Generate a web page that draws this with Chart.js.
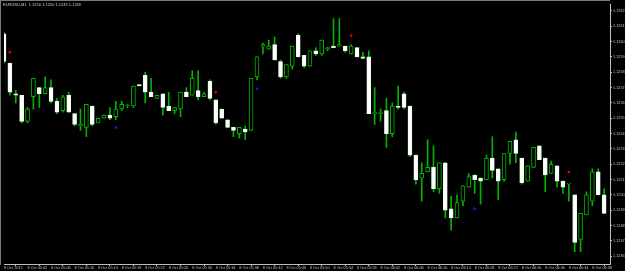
<!DOCTYPE html>
<html>
<head>
<meta charset="utf-8">
<script src="https://cdn.jsdelivr.net/npm/chart.js@4"></script>
<style>
html, body { margin: 0; padding: 0; background: #000; }
#wrap { position: relative; width: 625px; height: 271px; overflow: hidden; background: #000; }
#title { position: absolute; left: 3px; top: 2px; font: 8px "Liberation Sans", Arial, sans-serif; color: #d0d0d0;
         white-space: pre; transform: scale(0.5); transform-origin: 0 0; }
.edge { position: absolute; background: #7a7a7a; }
</style>
</head>
<body>
<div id="wrap">
  <canvas id="c" width="625" height="271"></canvas>
  <div class="edge" style="left:0;top:0;width:610px;height:1px"></div>
  <div class="edge" style="left:0;top:0;width:1px;height:265px"></div>
  <div id="title">EURUSD,M1  1.1250 1.1250 1.1249 1.1249</div>
</div>
<script>
// EURUSD M1, one candle per minute
const opens = [1.12605,1.12586,1.12566,1.12565,1.12548,1.12564,1.12570,1.12566,1.12570,1.12561,
  1.12555,1.12565,1.12553,1.12545,1.12544,1.12558,1.12547,1.12550,1.12552,1.12551,
  1.12556,1.12558,1.12558,1.12572,1.12578,1.12567,1.12563,1.12566,1.12558,1.12555,
  1.12556,1.12567,1.12565,1.12568,1.12564,1.12574,1.12562,1.12556,1.12549,1.12544,
  1.12540,1.12543,1.12542,1.12577,1.12597,1.12595,1.12598,1.12587,1.12577,1.12584,
  1.12604,1.12591,1.12584,1.12594,1.12592,1.12595,1.12597,1.12597,1.12597,1.12592,
  1.12596,1.12590,1.12590,1.12553,1.12553,1.12555,1.12540,1.12558,1.12566,1.12558,
  1.12526,1.12511,1.12515,1.12518,1.12504,1.12521,1.12491,1.12485,1.12496,1.12505,
  1.12513,1.12511,1.12510,1.12524,1.12517,1.12510,1.12527,1.12536,1.12524,1.12509,
  1.12518,1.12532,1.12524,1.12514,1.12519,1.12509,1.12507,1.12500,1.12471,1.12487,
  1.12496,1.12515,1.12500];
const highs = [1.12606,1.12586,1.12568,1.12565,1.12557,1.12576,1.12570,1.12577,1.12575,1.12563,
  1.12565,1.12567,1.12553,1.12556,1.12559,1.12558,1.12550,1.12552,1.12557,1.12561,
  1.12561,1.12559,1.12571,1.12572,1.12580,1.12576,1.12565,1.12566,1.12567,1.12557,
  1.12567,1.12570,1.12581,1.12581,1.12567,1.12575,1.12562,1.12556,1.12549,1.12544,
  1.12544,1.12545,1.12576,1.12590,1.12599,1.12601,1.12603,1.12588,1.12585,1.12597,
  1.12605,1.12591,1.12594,1.12596,1.12601,1.12596,1.12615,1.12615,1.12597,1.12598,
  1.12596,1.12593,1.12594,1.12570,1.12556,1.12563,1.12560,1.12571,1.12567,1.12558,
  1.12526,1.12521,1.12536,1.12532,1.12521,1.12521,1.12499,1.12500,1.12506,1.12514,
  1.12513,1.12511,1.12526,1.12538,1.12517,1.12527,1.12535,1.12541,1.12524,1.12519,
  1.12531,1.12532,1.12524,1.12522,1.12519,1.12509,1.12507,1.12500,1.12488,1.12502,
  1.12517,1.12517,1.12504];
const lows = [1.12586,1.12565,1.12560,1.12547,1.12547,1.12556,1.12557,1.12566,1.12560,1.12553,
  1.12554,1.12554,1.12545,1.12542,1.12538,1.12545,1.12547,1.12550,1.12549,1.12549,
  1.12555,1.12557,1.12557,1.12571,1.12560,1.12564,1.12563,1.12552,1.12555,1.12553,
  1.12551,1.12564,1.12565,1.12562,1.12564,1.12562,1.12546,1.12550,1.12544,1.12538,
  1.12537,1.12536,1.12542,1.12575,1.12592,1.12595,1.12588,1.12576,1.12576,1.12582,
  1.12590,1.12583,1.12584,1.12591,1.12591,1.12594,1.12596,1.12597,1.12593,1.12592,
  1.12590,1.12589,1.12553,1.12546,1.12548,1.12531,1.12538,1.12556,1.12556,1.12525,
  1.12507,1.12496,1.12515,1.12502,1.12501,1.12485,1.12477,1.12485,1.12493,1.12505,
  1.12501,1.12494,1.12510,1.12511,1.12497,1.12509,1.12520,1.12521,1.12507,1.12509,
  1.12518,1.12523,1.12502,1.12514,1.12505,1.12501,1.12496,1.12463,1.12463,1.12487,
  1.12493,1.12500,1.12488];
const closes = [1.12587,1.12567,1.12565,1.12548,1.12556,1.12576,1.12566,1.12570,1.12561,1.12554,
  1.12564,1.12554,1.12546,1.12546,1.12559,1.12546,1.12550,1.12552,1.12550,1.12556,
  1.12559,1.12558,1.12571,1.12571,1.12567,1.12564,1.12565,1.12557,1.12555,1.12557,
  1.12567,1.12564,1.12576,1.12564,1.12566,1.12563,1.12547,1.12550,1.12544,1.12542,
  1.12544,1.12541,1.12576,1.12590,1.12598,1.12597,1.12588,1.12577,1.12585,1.12597,
  1.12590,1.12584,1.12594,1.12592,1.12601,1.12596,1.12596,1.12598,1.12594,1.12597,
  1.12590,1.12589,1.12553,1.12553,1.12553,1.12540,1.12558,1.12557,1.12557,1.12526,
  1.12510,1.12514,1.12518,1.12504,1.12521,1.12490,1.12485,1.12495,1.12506,1.12512,
  1.12510,1.12509,1.12524,1.12516,1.12509,1.12527,1.12535,1.12527,1.12508,1.12519,
  1.12531,1.12523,1.12513,1.12520,1.12509,1.12505,1.12507,1.12469,1.12488,1.12500,
  1.12515,1.12500,1.12488];

// signal arrows (bar index + price)
const sellIdx = [1, 36, 59, 96];
const sellPrice = [1.12593, 1.12567, 1.12604, 1.12515];
const buyIdx = [19, 43, 80];
const buyPrice = [1.12544, 1.12569, 1.12491];

// axis labels
const timeLabels = ['8 Oct 2015','8 Oct 05:02','8 Oct 05:06','8 Oct 05:10','8 Oct 05:14','8 Oct 05:18',
  '8 Oct 05:22','8 Oct 05:26','8 Oct 05:30','8 Oct 05:34','8 Oct 05:38','8 Oct 05:42','8 Oct 05:46',
  '8 Oct 05:50','8 Oct 05:54','8 Oct 05:58','8 Oct 06:02','8 Oct 06:06','8 Oct 06:10','8 Oct 06:14',
  '8 Oct 06:18','8 Oct 06:22','8 Oct 06:26','8 Oct 06:30','8 Oct 06:34','8 Oct 06:38'];
const priceTicks = [1.1262,1.1261,1.1260,1.1259,1.1258,1.1257,1.1256,1.1255,1.1254,
  1.1253,1.1252,1.1251,1.1250,1.1249,1.1248,1.1247,1.1246];

const GREEN = '#00b400';
const AXIS = '#c0c0c0';
const FONT = { size: 3.8, family: 'Liberation Sans' };
const isBear = i => closes[i] < opens[i];

const wicks = {
    data: highs.map((h, i) => ({ x: i, y: [lows[i], h] })),
    backgroundColor: GREEN, borderWidth: 0, barThickness: 1, grouped: false, order: 3
};
const bodies = {
    data: opens.map((o, i) => ({ x: i, y: [o, closes[i]] })),
    backgroundColor: c => isBear(c.dataIndex) ? '#ffffff' : '#000000',
    borderColor: c => isBear(c.dataIndex) ? '#e8ffe8' : GREEN,
    borderWidth: 1, borderSkipped: false, barThickness: 4, minBarLength: 1, grouped: false, order: 2
};
const sells = {
    type: 'scatter', order: 1,
    data: sellIdx.map((x, k) => ({ x, y: sellPrice[k] })),
    pointStyle: 'triangle', rotation: 180, radius: 2, backgroundColor: '#ff0000', borderColor: '#ff0000', borderWidth: 0
};
const buys = {
    type: 'scatter', order: 1,
    data: buyIdx.map((x, k) => ({ x, y: buyPrice[k] })),
    pointStyle: 'triangle', radius: 2, backgroundColor: '#1a1aff', borderColor: '#1a1aff', borderWidth: 0
};

new Chart(document.getElementById('c'), {
    type: 'bar',
    data: { datasets: [wicks, bodies, sells, buys] },
    options: {
        responsive: false, animation: false, devicePixelRatio: 1,
        layout: { padding: { left: 1.5, top: 2, right: 0, bottom: 0 } },
        plugins: { legend: { display: false }, tooltip: { enabled: false } },
        scales: {
            x: {
                type: 'linear', min: 0, max: 103, offset: false,
                afterBuildTicks: s => { s.ticks = timeLabels.map((t, k) => ({ value: k * 4 })); },
                afterFit: s => { s.height = 7; },
                grid: { drawOnChartArea: false, tickLength: 2, color: AXIS },
                border: { color: AXIS },
                ticks: { align: 'start', maxRotation: 0, autoSkip: false, padding: 0, color: AXIS, font: FONT,
                         callback: v => timeLabels[Math.round(v / 4)] }
            },
            y: {
                position: 'right', min: 1.1245495, max: 1.126245,
                afterBuildTicks: s => { s.ticks = priceTicks.map(v => ({ value: v })); },
                afterFit: s => { s.width = 15; },
                grid: { drawOnChartArea: false, tickLength: 2, color: AXIS },
                border: { color: AXIS },
                ticks: { padding: 1, color: AXIS, font: FONT, callback: v => v.toFixed(4) }
            }
        }
    }
});
</script>
</body>
</html>
